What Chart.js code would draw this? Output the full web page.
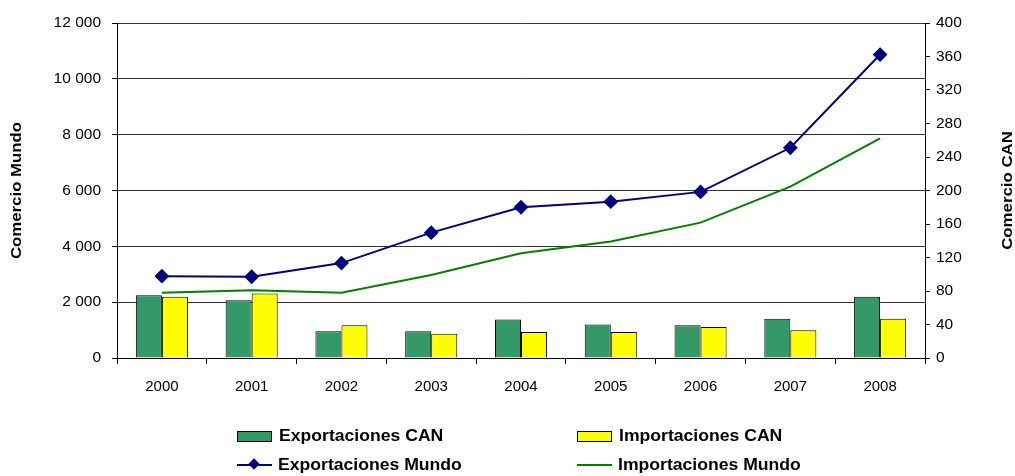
<!DOCTYPE html>
<html>
<head>
<meta charset="utf-8">
<script src="https://cdn.jsdelivr.net/npm/chart.js@4.4.1/dist/chart.umd.min.js"></script>
<style>
  body { margin: 0; background: #fff; font-family: "Liberation Sans", Arial, sans-serif; }
  #wrap { position: relative; width: 1015px; height: 476px; }
  .leg { position: absolute; font: bold 16px "Liberation Sans", Arial, sans-serif; color: #000; display: flex; align-items: center; }
  .txt { display: inline-block; transform: scaleX(1.1); transform-origin: left center; white-space: nowrap; }
  .box { width: 33px; height: 9px; border: 1px solid #000; margin-right: 7px; }
  .ln { position: relative; width: 35px; height: 2px; margin-right: 6px; }
  .dia { position: absolute; left: 13px; top: -4px; width: 8px; height: 8px; background: #000080; transform: rotate(45deg); }
</style>
</head>
<body>
<div id="wrap">
  <canvas id="chart" width="1015" height="476"></canvas>
  <div class="leg" style="left:237px; top:427px;"><span class="box" style="background:#339966"></span><span class="txt">Exportaciones CAN</span></div>
  <div class="leg" style="left:577px; top:427px;"><span class="box" style="background:#ffff00"></span><span class="txt">Importaciones CAN</span></div>
  <div class="leg" style="left:237px; top:456px;"><span class="ln" style="background:#000080"><span class="dia"></span></span><span class="txt">Exportaciones Mundo</span></div>
  <div class="leg" style="left:577px; top:456px;"><span class="ln" style="background:#008000"></span><span class="txt">Importaciones Mundo</span></div>
</div>
<script>
  // values
  var years = ["2000", "2001", "2002", "2003", "2004", "2005", "2006", "2007", "2008"];
  var exportCAN = [75, 69, 32, 32, 46, 40, 39, 47, 73];
  var importCAN = [73, 77, 39, 29, 31, 31, 37, 33, 47];
  var exportMundo = [2930, 2910, 3400, 4490, 5400, 5600, 5950, 7530, 10870];
  var importMundo = [2340, 2430, 2340, 2970, 3750, 4170, 4850, 6140, 7870];

  var fmt = function (v) {
    return String(v).replace(/\B(?=(\d{3})+(?!\d))/g, " ");
  };

  // axis titles, both read bottom to top (stretched a bit like the original)
  var drawTitle = function (ctx, text, x, y) {
    ctx.save();
    ctx.fillStyle = "#000";
    ctx.font = "bold 14px 'Liberation Sans', Arial, sans-serif";
    ctx.textAlign = "center";
    ctx.textBaseline = "middle";
    ctx.translate(x, y);
    ctx.rotate(-Math.PI / 2);
    ctx.scale(1.2, 1);
    ctx.fillText(text, 0, 0);
    ctx.restore();
  };

  var axisTitles = {
    id: "axisTitles",
    afterDraw: function (chart) {
      var area = chart.chartArea;
      var midY = (area.top + area.bottom) / 2;
      drawTitle(chart.ctx, "Comercio Mundo", 17.5, midY);
      drawTitle(chart.ctx, "Comercio CAN", 1008, midY);
    },
  };

  var yFont = { family: "'Liberation Sans', Arial, sans-serif", size: 15.5 };
  var xFont = { family: "'Liberation Sans', Arial, sans-serif", size: 15 };

  new Chart(document.getElementById("chart"), {
    type: "bar",
    data: {
      labels: years,
      datasets: [
        {
          type: "line",
          label: "Exportaciones Mundo",
          data: exportMundo,
          yAxisID: "y",
          borderColor: "#000080",
          backgroundColor: "#000080",
          borderWidth: 2,
          pointStyle: "rectRot",
          pointRadius: 6,
          pointHoverRadius: 6,
          tension: 0,
          order: 0,
        },
        {
          type: "line",
          label: "Importaciones Mundo",
          data: importMundo,
          yAxisID: "y",
          borderColor: "#008000",
          backgroundColor: "#008000",
          borderWidth: 2,
          pointRadius: 0,
          tension: 0,
          order: 0,
        },
        {
          label: "Exportaciones CAN",
          data: exportCAN,
          yAxisID: "y1",
          backgroundColor: "#339966",
          borderColor: "#000",
          borderWidth: 1,
          categoryPercentage: 0.58,
          barPercentage: 1,
          order: 1,
        },
        {
          label: "Importaciones CAN",
          data: importCAN,
          yAxisID: "y1",
          backgroundColor: "#ffff00",
          borderColor: "#000",
          borderWidth: 1,
          categoryPercentage: 0.58,
          barPercentage: 1,
          order: 1,
        },
      ],
    },
    options: {
      responsive: false,
      animation: false,
      layout: { padding: { top: 23, left: 0, right: 0, bottom: 0 } },
      plugins: {
        legend: { display: false },
        tooltip: { enabled: false },
      },
      scales: {
        x: {
          offset: true,
          grid: { drawOnChartArea: false, tickLength: 6, color: "#000" },
          border: { color: "#000" },
          ticks: { color: "#000", font: xFont, padding: 14, maxRotation: 0 },
          afterFit: function (s) { s.height = 118; },
        },
        y: {
          position: "left",
          min: 0,
          max: 12000,
          ticks: { stepSize: 2000, color: "#000", font: yFont, padding: 11, callback: fmt },
          grid: { color: "#333", tickColor: "#000", tickLength: 5 },
          border: { color: "#000" },
          afterFit: function (s) { s.width = 117; },
        },
        y1: {
          position: "right",
          min: 0,
          max: 400,
          ticks: { stepSize: 40, color: "#000", font: yFont, padding: 6 },
          grid: { drawOnChartArea: false, color: "#000", tickLength: 5 },
          border: { color: "#000" },
          afterFit: function (s) { s.width = 90; },
        },
      },
    },
    plugins: [axisTitles],
  });
</script>
</body>
</html>
